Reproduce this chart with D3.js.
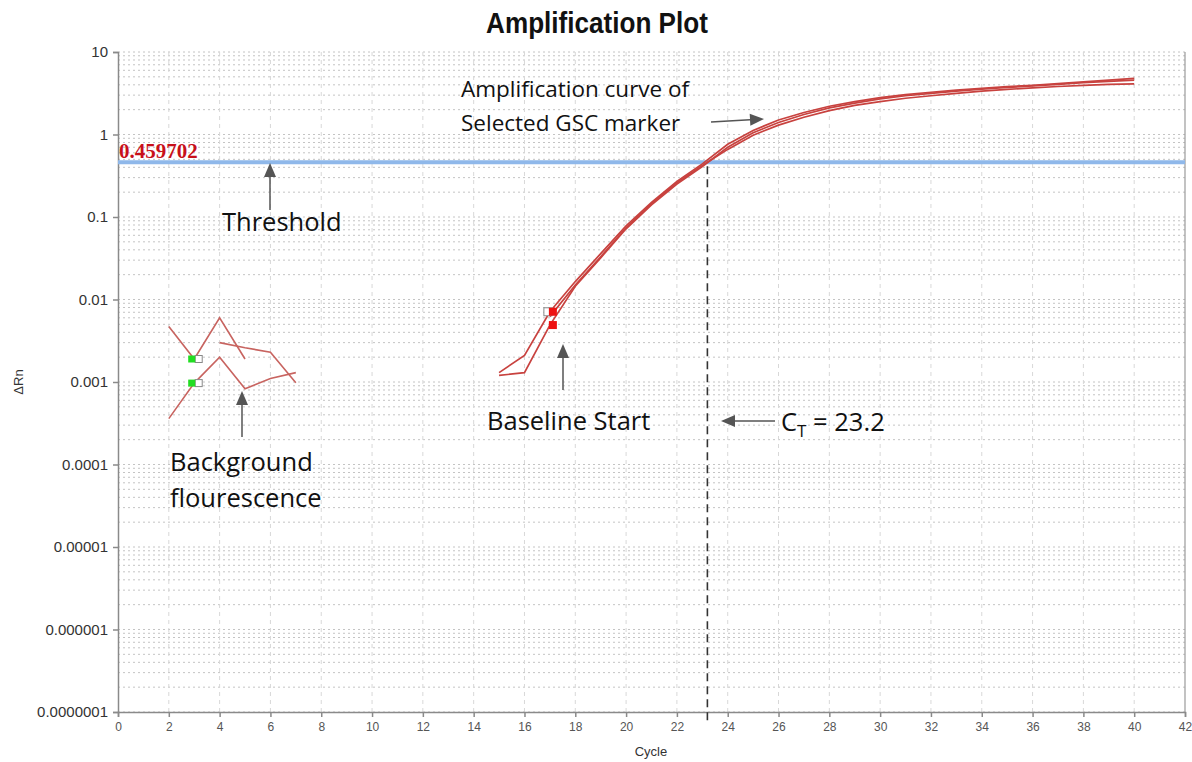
<!DOCTYPE html>
<html>
<head>
<meta charset="utf-8">
<script src="https://cdn.jsdelivr.net/npm/d3@7"></script>
<style>
  html, body { margin: 0; padding: 0; background: #fff; }
  svg { display: block; }
</style>
</head>
<body>
<svg id="chart" width="1192" height="762"></svg>
<script>
// ---- data ----
const cycles = d3.range(15, 41);
// replicate amplification curves (ΔRn per cycle, cycles 15–40)
const curveA = [0.0013, 0.0021, 0.0071, 0.0165, 0.036, 0.078, 0.15, 0.27, 0.44, 0.76, 1.12, 1.5, 1.85, 2.2, 2.5, 2.8, 3.05, 3.25, 3.45, 3.62, 3.8, 3.95, 4.15, 4.35, 4.55, 4.8];
const curveB = [0.0012, 0.0013, 0.0049, 0.0145, 0.032, 0.072, 0.14, 0.25, 0.41, 0.70, 1.05, 1.4, 1.75, 2.1, 2.4, 2.7, 2.95, 3.15, 3.35, 3.55, 3.72, 3.88, 4.05, 4.25, 4.4, 4.55];
const curveC = [null, null, 0.0062, 0.0150, 0.033, 0.074, 0.145, 0.26, 0.42, 0.66, 0.98, 1.3, 1.62, 1.95, 2.25, 2.5, 2.75, 2.95, 3.15, 3.35, 3.52, 3.68, 3.82, 3.95, 4.05, 4.1];
// background fluorescence traces in the early cycles
const bgCycles1 = [2, 3, 4, 5];
const bgValues1 = [0.0047, 0.0019, 0.0060, 0.0019];
const bgCycles2 = [2, 3, 4, 5, 6, 7];
const bgValues2 = [0.00036, 0.00097, 0.0020, 0.00083, 0.0011, 0.0013];
const bgCycles3 = [4, 5, 6, 7];
const bgValues3 = [0.0030, 0.0026, 0.0023, 0.00098];

const threshold = 0.459702;
const ctValue = 23.2;
const baselineCycle = 17;
const bgMarkerCycle = 3;

const xTicks = d3.range(0, 43, 2);
const yTicks = [1e-7, 1e-6, 1e-5, 1e-4, 1e-3, 1e-2, 0.1, 1, 10];
const yTickLabels = ["0.0000001", "0.000001", "0.00001", "0.0001", "0.001", "0.01", "0.1", "1", "10"];

// ---- layout ----
const svg = d3.select("#chart");
const L = 118, R = 1185, T = 52, B = 712;
const x = d3.scaleLinear().domain([0, 42]).range([L, R]);
const y = d3.scaleLog().domain([1e-7, 10]).range([B, T]);

// title (bold, horizontally condensed)
svg.append("text")
  .attr("transform", "translate(597,33) scale(0.87,1)")
  .attr("text-anchor", "middle")
  .attr("font-family", "'Liberation Sans', Arial, sans-serif")
  .attr("font-weight", "bold")
  .attr("font-size", 30)
  .attr("fill", "#111")
  .text("Amplification Plot");

// ---- grid ----
const grid = svg.append("g");
const minorVals = [];
for (let e = -7; e < 1; e++) for (let m = 1; m <= 9; m++) minorVals.push(m * Math.pow(10, e));
minorVals.push(10);
grid.selectAll("line.h").data(minorVals).join("line")
  .attr("x1", L).attr("x2", R)
  .attr("y1", d => y(d)).attr("y2", d => y(d))
  .attr("stroke", "#c4c4c4").attr("stroke-width", 1)
  .attr("stroke-dasharray", "2,3");
grid.selectAll("line.v").data(xTicks.filter(d => d > 0 && d < 42)).join("line")
  .attr("x1", d => x(d)).attr("x2", d => x(d))
  .attr("y1", T).attr("y2", B)
  .attr("stroke", "#d8d8d8").attr("stroke-width", 1)
  .attr("stroke-dasharray", "4,4");
// right frame
svg.append("line").attr("x1", R).attr("x2", R).attr("y1", T).attr("y2", B)
  .attr("stroke", "#9a9a9a").attr("stroke-width", 1.2);

// ---- axes ----
const yAxis = d3.axisLeft(y).tickValues(yTicks)
  .tickFormat((d, i) => yTickLabels[i]).tickSize(5).tickPadding(5);
const gy = svg.append("g").attr("transform", `translate(${L},0)`).call(yAxis);
gy.select(".domain").attr("stroke", "#8a8a8a").attr("stroke-width", 1.5);
gy.selectAll(".tick line").attr("stroke", "#8a8a8a").attr("stroke-width", 1.5);
gy.selectAll(".tick text").attr("font-family", "'Liberation Sans', Arial, sans-serif")
  .attr("font-size", 15).attr("fill", "#333");

const xAxis = d3.axisBottom(x).tickValues(xTicks).tickSize(5).tickPadding(5);
const gx = svg.append("g").attr("transform", `translate(0,${B})`).call(xAxis);
gx.select(".domain").attr("stroke", "#8a8a8a").attr("stroke-width", 1.5);
gx.selectAll(".tick line").attr("stroke", "#8a8a8a").attr("stroke-width", 1.5);
gx.selectAll(".tick text").attr("font-family", "'Liberation Sans', Arial, sans-serif")
  .attr("font-size", 12).attr("fill", "#555");

svg.append("text").attr("x", 651).attr("y", 756).attr("text-anchor", "middle")
  .attr("font-family", "'Liberation Sans', Arial, sans-serif").attr("font-size", 13).attr("fill", "#333")
  .text("Cycle");
svg.append("text").attr("transform", "translate(23,382) rotate(-90)").attr("text-anchor", "middle")
  .attr("font-family", "'Liberation Sans', Arial, sans-serif").attr("font-size", 13).attr("fill", "#333")
  .text("ΔRn");

// ---- threshold ----
svg.append("line")
  .attr("x1", L).attr("x2", R).attr("y1", y(threshold)).attr("y2", y(threshold))
  .attr("stroke", "#8fb8ea").attr("stroke-width", 4);
svg.append("text").attr("x", L + 1).attr("y", y(threshold) - 4)
  .attr("font-family", "'Liberation Serif', 'Times New Roman', serif")
  .attr("font-weight", "bold").attr("font-size", 21).attr("fill", "#c8101a")
  .text("0.459702");

// ---- curves ----
const line = d3.line()
  .defined(d => d[1] != null)
  .x(d => x(d[0])).y(d => y(d[1]));
const curveColor = "#c8423f";
const ampSeries = [curveA, curveB, curveC].map(vals => cycles.map((c, i) => [c, vals[i]]));
svg.append("g").selectAll("path").data(ampSeries).join("path")
  .attr("d", line).attr("fill", "none")
  .attr("stroke", curveColor).attr("stroke-width", 1.7);

const bgSeries = [
  bgCycles1.map((c, i) => [c, bgValues1[i]]),
  bgCycles2.map((c, i) => [c, bgValues2[i]]),
  bgCycles3.map((c, i) => [c, bgValues3[i]])
];
svg.append("g").selectAll("path").data(bgSeries).join("path")
  .attr("d", line).attr("fill", "none")
  .attr("stroke", "#c86460").attr("stroke-width", 1.6);

// background markers (green filled + hollow)
const bgMarkerVals = [bgValues1[bgCycles1.indexOf(bgMarkerCycle)], bgValues2[bgCycles2.indexOf(bgMarkerCycle)]];
bgMarkerVals.forEach(v => {
  svg.append("rect").attr("x", x(bgMarkerCycle) + 1).attr("y", y(v) - 3.5)
    .attr("width", 7).attr("height", 7).attr("fill", "#fff").attr("stroke", "#888").attr("stroke-width", 1);
  svg.append("rect").attr("x", x(bgMarkerCycle) - 6).attr("y", y(v) - 3.5)
    .attr("width", 7).attr("height", 7).attr("fill", "#22dd22");
});

// baseline start markers
const bi = cycles.indexOf(baselineCycle);
svg.append("rect").attr("x", x(baselineCycle) - 6).attr("y", y(curveA[bi]) - 4)
  .attr("width", 8).attr("height", 8).attr("fill", "#fff").attr("stroke", "#888").attr("stroke-width", 1);
[curveA[bi], curveB[bi]].forEach(v => {
  svg.append("rect").attr("x", x(baselineCycle) - 1).attr("y", y(v) - 4)
    .attr("width", 8).attr("height", 8).attr("fill", "#ee1111");
});

// Ct line
svg.append("line")
  .attr("x1", x(ctValue)).attr("x2", x(ctValue))
  .attr("y1", y(threshold) + 4).attr("y2", B + 10)
  .attr("stroke", "#333").attr("stroke-width", 1.6).attr("stroke-dasharray", "8,5");

// ---- annotations ----
const annFont = "'Open Sans', 'Noto Sans', sans-serif";
const arrowColor = "#555";
function arrow(x1, y1, x2, y2) {
  const ang = Math.atan2(y2 - y1, x2 - x1);
  const len = 14, half = 6;
  const bx = x2 - len * Math.cos(ang), by = y2 - len * Math.sin(ang);
  svg.append("line").attr("x1", x1).attr("y1", y1).attr("x2", bx).attr("y2", by)
    .attr("stroke", arrowColor).attr("stroke-width", 1.5);
  const px = -Math.sin(ang) * half, py = Math.cos(ang) * half;
  svg.append("path")
    .attr("d", `M${x2},${y2}L${bx + px},${by + py}L${bx - px},${by - py}Z`)
    .attr("fill", arrowColor);
}
function label(tx, ty, txt, size) {
  svg.append("text").attr("x", tx).attr("y", ty)
    .attr("font-family", annFont).attr("font-size", size).attr("fill", "#111").text(txt);
}

label(461, 97, "Amplification curve of", 22.5);
label(461, 131, "Selected GSC marker", 22.5);
arrow(711, 122, 764, 119);

label(222, 231, "Threshold", 25.5);
arrow(270, 210, 270, 163);

label(170, 471, "Background", 25.5);
label(170, 507, "flourescence", 25.5);
arrow(242, 437, 242, 391);

label(487, 430, "Baseline Start", 25.5);
arrow(563, 390, 563, 344);

const ct = svg.append("text").attr("x", 781).attr("y", 431)
  .attr("font-family", annFont).attr("font-size", 25.5).attr("fill", "#111");
ct.append("tspan").text("C");
ct.append("tspan").attr("font-size", 17).attr("dy", 6).text("T");
ct.append("tspan").attr("dy", -6).text(" = 23.2");
arrow(775, 421, 721, 421);
</script>
</body>
</html>
